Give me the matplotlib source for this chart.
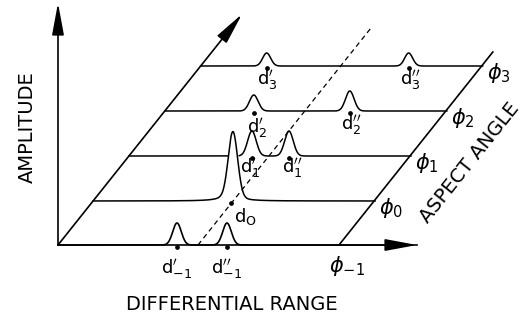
import numpy as np
import matplotlib.pyplot as plt

# aspect-angle rows: index, depth along the oblique axis, where each row stops
aspect = [-1, 0, 1, 2, 3]
row_depth = [0, 44, 89, 134, 179]
row_end = [359, 282, 282, 282, 282]

# peaks: which row, differential range position, amplitude, label
peak_row = [0, 0, 1, 2, 2, 3, 3, 4, 4]
peak_pos = [119, 169, 140, 123, 160, 89, 185, 66, 208]
peak_amp = [22, 22, 70, 25, 25, 16, 20, 13, 13]
peak_width = [4.3, 4.3, 4.6, 4.3, 4.3, 4.3, 4.3, 4.0, 4.0]
peak_lab = [r"$\mathrm{d}^{\prime}_{-1}$", r"$\mathrm{d}^{\prime\prime}_{-1}$",
            r"$\mathrm{d}_{\mathrm{O}}$",
            r"$\mathrm{d}^{\prime}_{1}$", r"$\mathrm{d}^{\prime\prime}_{1}$",
            r"$\mathrm{d}^{\prime}_{2}$", r"$\mathrm{d}^{\prime\prime}_{2}$",
            r"$\mathrm{d}^{\prime}_{3}$", r"$\mathrm{d}^{\prime\prime}_{3}$"]
lab_off = [(0, -12), (0, -12), (14, -5), (-2, 0), (3, 0),
           (3, -5), (1, -2), (1, -2), (2, -2)]

shear = 0.797  # oblique axis: dx per unit depth


def proj(r, depth, z=0.0):
    return np.asarray(r) + shear * np.asarray(depth), np.asarray(depth) + np.asarray(z)


fig = plt.figure(figsize=(5.27, 3.24), dpi=100)
ax = fig.add_axes([0, 0, 1, 1])
ax.set_xlim(-58, 469)
ax.set_ylim(-79, 245)
ax.axis('off')

lw = 1.2
arrow = dict(arrowstyle='-|>,head_length=1.4,head_width=0.26', color='black',
             lw=lw, mutation_scale=14, shrinkA=0, shrinkB=0)

# axes: amplitude, aspect angle (oblique), differential range
ax.annotate('', xy=(0, 242), xytext=(0, 0), arrowprops=arrow, zorder=20)
ax.annotate('', xy=proj(0, 231), xytext=(0, 0), arrowprops=arrow, zorder=20)
ax.annotate('', xy=(359, 0), xytext=(0, 0), arrowprops=arrow, zorder=20)
x0, y0 = proj(281, 0)
x1, y1 = proj(281, 193)
ax.plot([x0, x1], [y0, y1], color='black', lw=lw, zorder=20)

# dashed track of the main return
dx, dy = proj([140, 140], [0, 217])
ax.plot(dx, dy, color='black', lw=0.9, ls=(0, (4, 3)), zorder=30)

# rows, drawn back to front so nearer peaks hide the lines behind
for i in range(len(aspect) - 1, -1, -1):
    r = np.linspace(0, row_end[i], 1500)
    z = np.zeros_like(r)
    for k in range(len(peak_row)):
        if peak_row[k] != i:
            continue
        d = r - peak_pos[k]
        if peak_amp[k] > 50:
            z += peak_amp[k] * (0.85 * np.exp(-0.5 * (d / peak_width[k]) ** 2)
                                + 0.15 / (1 + ((d + 2) / 8.0) ** 2))
        else:
            z += peak_amp[k] * np.exp(-0.5 * (d / peak_width[k]) ** 2)
    x, y = proj(r, row_depth[i], z)
    zo = 5 + 2 * (len(aspect) - i)
    ax.fill_between(x, row_depth[i], y, color='white', zorder=zo)
    ax.plot(x, y, color='black', lw=lw if i == 0 else 1.1, zorder=zo + 1)

    px, py = proj(row_end[i] if i > 0 else 281, row_depth[i])
    if i == 0:
        ax.annotate(r"$\phi_{-1}$", (px, py), xytext=(8, -21), textcoords='offset pixels',
                    ha='center', va='center', fontsize=15, zorder=40)
    else:
        ax.annotate(r"$\phi_{%d}$" % aspect[i], (px, py), xytext=(16, -7),
                    textcoords='offset pixels', ha='center', va='center',
                    fontsize=15, zorder=40)

# dots and labels at each peak position
for k in range(len(peak_row)):
    px, py = proj(peak_pos[k] - (2 if peak_amp[k] > 50 else 0), row_depth[peak_row[k]])
    ax.plot(px, py - 1.5, 'o', color='black', ms=2.4, zorder=40)
    ax.annotate(peak_lab[k], (px, py), xytext=lab_off[k], textcoords='offset pixels',
                ha='center', va='top', fontsize=13, zorder=40)

ax.text(-31, 118, 'AMPLITUDE', rotation=90, ha='center', va='center', fontsize=14)
ax.text(174, -59, 'DIFFERENTIAL RANGE', ha='center', va='center', fontsize=14)
ax.text(412, 82, 'ASPECT ANGLE', rotation=51.5, ha='center', va='center', fontsize=14,
        rotation_mode='anchor')

fig.savefig('out.png', dpi=100)
